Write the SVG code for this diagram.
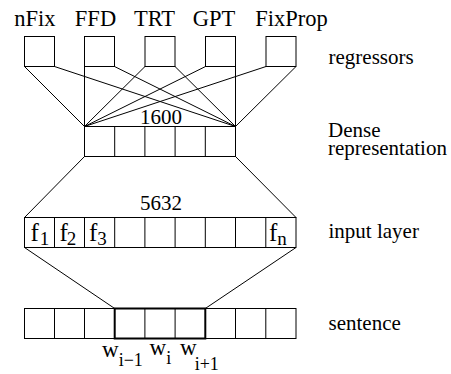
<svg xmlns="http://www.w3.org/2000/svg" width="451" height="374" viewBox="0 0 451 374">
  <style>
    text { font-family: "Liberation Serif", "Times New Roman", serif; fill: #000; }
    .box { fill: #fff; stroke: #000; stroke-width: 1; }
    .cell { fill: none; stroke: #000; stroke-width: 1; }
    .thick { fill: none; stroke: #000; stroke-width: 2; }
    .edge { stroke: #000; stroke-width: 1; fill: none; }
    .head { font-size: 22.5px; text-anchor: middle; }
    .side { font-size: 21px; }
    .num { font-size: 21px; text-anchor: middle; }
    .sym { font-size: 25px; }
    .sub { font-size: 19px; }
    .w { font-size: 23px; }
    .wsub { font-size: 18px; }
  </style>

  <!-- connectors between layers -->
  <g id="connectors">
    <!-- regressors to dense representation -->
    <line class="edge" x1="24.5" y1="66.5" x2="84.5" y2="126.5"/>
    <line class="edge" x1="54.5" y1="66.5" x2="235.5" y2="126.5"/>
    <line class="edge" x1="84.5" y1="66.5" x2="84.5" y2="126.5"/>
    <line class="edge" x1="114.5" y1="66.5" x2="235.5" y2="126.5"/>
    <line class="edge" x1="145" y1="66.5" x2="84.5" y2="126.5"/>
    <line class="edge" x1="175" y1="66.5" x2="235.5" y2="126.5"/>
    <line class="edge" x1="205.5" y1="66.5" x2="84.5" y2="126.5"/>
    <line class="edge" x1="235.5" y1="66.5" x2="235.5" y2="126.5"/>
    <line class="edge" x1="266" y1="66.5" x2="84.5" y2="126.5"/>
    <line class="edge" x1="296" y1="66.5" x2="235.5" y2="126.5"/>
    <!-- dense representation to input layer -->
    <line class="edge" x1="84.5" y1="156.5" x2="24.5" y2="217.5"/>
    <line class="edge" x1="235.5" y1="156.5" x2="296" y2="217.5"/>
    <!-- input layer to sentence window -->
    <line class="edge" x1="24.5" y1="247.5" x2="114.7" y2="308.5"/>
    <line class="edge" x1="296" y1="247.5" x2="205.3" y2="308.5"/>
  </g>

  <!-- regressor outputs -->
  <g id="nFix">
    <rect class="box" x="24.5" y="36.5" width="30" height="30"/>
    <text class="head" x="35" y="26">nFix</text>
  </g>
  <g id="FFD">
    <rect class="box" x="84.5" y="36.5" width="30" height="30"/>
    <text class="head" x="95.5" y="26">FFD</text>
  </g>
  <g id="TRT">
    <rect class="box" x="145" y="36.5" width="30" height="30"/>
    <text class="head" x="154.5" y="26">TRT</text>
  </g>
  <g id="GPT">
    <rect class="box" x="205.5" y="36.5" width="30" height="30"/>
    <text class="head" x="214" y="26">GPT</text>
  </g>
  <g id="FixProp">
    <rect class="box" x="266" y="36.5" width="30" height="30"/>
    <text class="head" x="291.5" y="26">FixProp</text>
  </g>
  <g id="regressors-label">
    <text class="side" x="328.5" y="64">regressors</text>
  </g>

  <!-- dense representation layer -->
  <g id="dense">
    <rect class="cell" x="84.5" y="126.5" width="151" height="30"/>
    <line class="cell" x1="114.7" y1="126.5" x2="114.7" y2="156.5"/>
    <line class="cell" x1="144.9" y1="126.5" x2="144.9" y2="156.5"/>
    <line class="cell" x1="175.1" y1="126.5" x2="175.1" y2="156.5"/>
    <line class="cell" x1="205.3" y1="126.5" x2="205.3" y2="156.5"/>
    <text class="num" x="161" y="124">1600</text>
    <text class="side" x="328" y="137">Dense<tspan x="328" dy="18">representation</tspan></text>
  </g>

  <!-- input layer -->
  <g id="input">
    <rect class="cell" x="24.5" y="217.5" width="271.5" height="30"/>
    <line class="cell" x1="54.5" y1="217.5" x2="54.5" y2="247.5"/>
    <line class="cell" x1="84.5" y1="217.5" x2="84.5" y2="247.5"/>
    <line class="cell" x1="114.7" y1="217.5" x2="114.7" y2="247.5"/>
    <line class="cell" x1="144.9" y1="217.5" x2="144.9" y2="247.5"/>
    <line class="cell" x1="175.1" y1="217.5" x2="175.1" y2="247.5"/>
    <line class="cell" x1="205.3" y1="217.5" x2="205.3" y2="247.5"/>
    <line class="cell" x1="235.5" y1="217.5" x2="235.5" y2="247.5"/>
    <line class="cell" x1="265.8" y1="217.5" x2="265.8" y2="247.5"/>
    <text class="num" x="161" y="210">5632</text>
    <text class="sym" x="30.5" y="241">f<tspan class="sub" dx="1" dy="4">1</tspan></text>
    <text class="sym" x="59.5" y="241">f<tspan class="sub" dx="-1" dy="4">2</tspan></text>
    <text class="sym" x="89" y="241">f<tspan class="sub" dy="4">3</tspan></text>
    <text class="sym" x="269" y="241">f<tspan class="sub" dy="4">n</tspan></text>
    <text class="side" x="328.5" y="238">input layer</text>
  </g>

  <!-- sentence tokens -->
  <g id="sentence">
    <rect class="cell" x="24.5" y="308.5" width="271.5" height="30"/>
    <line class="cell" x1="54.5" y1="308.5" x2="54.5" y2="338.5"/>
    <line class="cell" x1="84.5" y1="308.5" x2="84.5" y2="338.5"/>
    <line class="cell" x1="144.9" y1="308.5" x2="144.9" y2="338.5"/>
    <line class="cell" x1="175.1" y1="308.5" x2="175.1" y2="338.5"/>
    <line class="cell" x1="235.5" y1="308.5" x2="235.5" y2="338.5"/>
    <line class="cell" x1="265.8" y1="308.5" x2="265.8" y2="338.5"/>
    <rect class="thick" x="114.7" y="308.5" width="90.6" height="30"/>
    <text class="w" x="102" y="357">w<tspan class="wsub" dy="9">i−1</tspan></text>
    <text class="w" x="149.5" y="355">w<tspan class="wsub" dy="9">i</tspan></text>
    <text class="w" x="180" y="355">w<tspan class="wsub" dx="-2" dy="15">i+1</tspan></text>
    <text class="side" x="328.5" y="330">sentence</text>
  </g>
</svg>
